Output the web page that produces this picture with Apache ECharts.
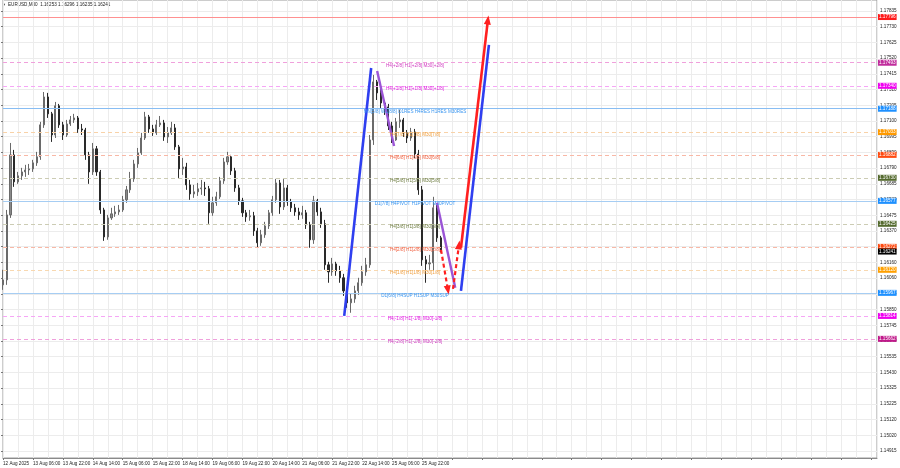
<!DOCTYPE html>
<html><head><meta charset="utf-8">
<script src="https://cdn.jsdelivr.net/npm/echarts@6/dist/echarts.min.js"></script>
<style>html,body{margin:0;padding:0;background:#fff}#c{width:900px;height:468px}</style>
</head><body><div id="c"></div>
<script>
// ---------- DATA ----------
const symbolName = 'EURUSD,M30';
const headerValues = ['1.16253', '1.16296', '1.16235', '1.16241'];

// M30 slot index (trading-time position) of each 2-hour bar
const barSlots = [0,4,8,12,16,20,24,28,32,36,40,44,48,52,56,60,64,68,72,76,80,84,88,92,96,100,104,108,112,116,
120,124,128,132,136,140,144,148,152,156,160,164,168,172,176,180,184,188,192,196,200,204,208,212,216,220,224,228,232,236,
240,244,248,252,256,260,264,268,272,276,280,284,288,292,296,300,304,308,312,316,320,324,328,332,336,340,344,348,352,356,
360,364,368,372,376,380,384,388,392,396,400,404,408,412,416,420,424,428,432,436,440,444,448,452,456,460,464,468];

const opens = [1.16020,1.16053,1.16484,1.16882,1.16703,1.16743,1.16769,1.16782,1.16789,1.16829,
1.16869,1.17081,1.17266,1.17154,1.17014,1.17207,1.17081,1.17014,1.17087,1.17114,
1.17127,1.17054,1.17047,1.16882,1.16769,1.16922,1.16769,1.16517,1.16338,1.16464,
1.16491,1.16504,1.16517,1.16584,1.16650,1.16723,1.16822,1.16895,1.16994,1.17134,
1.17054,1.17028,1.17081,1.17094,1.17001,1.17028,1.17061,1.16935,1.16789,1.16802,
1.16683,1.16623,1.16637,1.16657,1.16663,1.16657,1.16498,1.16564,1.16604,1.16710,
1.16835,1.16869,1.16776,1.16663,1.16577,1.16498,1.16471,1.16478,1.16378,1.16299,
1.16352,1.16411,1.16498,1.16584,1.16696,1.16537,1.16663,1.16570,1.16531,1.16504,
1.16484,1.16498,1.16418,1.16319,1.16577,1.16504,1.16425,1.16153,1.16106,1.16159,
1.16113,1.16067,1.15980,1.15901,1.15927,1.15980,1.16034,1.16106,1.16153,1.16981,
1.17366,1.17293,1.17226,1.17200,1.17074,1.16981,1.17101,1.17114,1.17028,1.16994,
1.17034,1.16888,1.16650,1.16186,1.16159,1.16166,1.16531,1.16332];

const highs = [1.16120,1.16517,1.16961,1.16915,1.16769,1.16796,1.16816,1.16822,1.16849,1.16902,
1.17101,1.17299,1.17293,1.17167,1.17233,1.17220,1.17101,1.17114,1.17140,1.17154,
1.17140,1.17087,1.17061,1.16902,1.16961,1.16941,1.16782,1.16531,1.16484,1.16531,
1.16544,1.16550,1.16610,1.16676,1.16769,1.16849,1.16928,1.17028,1.17167,1.17147,
1.17081,1.17114,1.17140,1.17114,1.17067,1.17101,1.17087,1.16948,1.16862,1.16829,
1.16716,1.16683,1.16696,1.16716,1.16703,1.16676,1.16604,1.16637,1.16736,1.16862,
1.16902,1.16882,1.16796,1.16683,1.16597,1.16517,1.16517,1.16504,1.16398,1.16385,
1.16438,1.16517,1.16610,1.16723,1.16716,1.16723,1.16683,1.16590,1.16557,1.16531,
1.16544,1.16517,1.16438,1.16610,1.16590,1.16531,1.16451,1.16173,1.16199,1.16173,
1.16146,1.16093,1.16007,1.15961,1.16014,1.16067,1.16146,1.16199,1.17014,1.17412,
1.17379,1.17326,1.17246,1.17220,1.17101,1.17127,1.17180,1.17127,1.17047,1.17061,
1.17054,1.16915,1.16676,1.16212,1.16219,1.16604,1.16550,1.16345];

const lows = [1.15987,1.16020,1.16464,1.16670,1.16690,1.16716,1.16736,1.16749,1.16769,1.16809,
1.16849,1.17061,1.17127,1.16968,1.16994,1.17061,1.16981,1.17001,1.17074,1.17094,
1.17028,1.17014,1.16849,1.16690,1.16749,1.16743,1.16491,1.16312,1.16319,1.16451,
1.16471,1.16484,1.16504,1.16564,1.16630,1.16703,1.16796,1.16882,1.16981,1.17028,
1.17008,1.17014,1.17067,1.16975,1.16961,1.17014,1.16915,1.16729,1.16749,1.16650,
1.16584,1.16597,1.16610,1.16617,1.16610,1.16425,1.16478,1.16544,1.16590,1.16690,
1.16816,1.16749,1.16637,1.16550,1.16471,1.16438,1.16445,1.16345,1.16266,1.16279,
1.16332,1.16391,1.16478,1.16564,1.16491,1.16517,1.16544,1.16504,1.16478,1.16451,
1.16458,1.16391,1.16266,1.16292,1.16478,1.16398,1.16120,1.16034,1.16080,1.16080,
1.16034,1.15947,1.15868,1.15835,1.15901,1.15954,1.16014,1.16080,1.16133,1.16948,
1.17246,1.17193,1.17147,1.17047,1.16961,1.16975,1.17061,1.17001,1.16961,1.16975,
1.16862,1.16617,1.16146,1.16034,1.16120,1.16113,1.16305,1.16235];

const closes = [1.16053,1.16484,1.16882,1.16703,1.16743,1.16769,1.16782,1.16789,1.16829,1.16869,
1.17081,1.17266,1.17154,1.17014,1.17207,1.17081,1.17014,1.17087,1.17114,1.17127,
1.17054,1.17047,1.16882,1.16769,1.16922,1.16769,1.16517,1.16338,1.16464,1.16491,
1.16504,1.16517,1.16584,1.16650,1.16723,1.16822,1.16895,1.16994,1.17134,1.17054,
1.17028,1.17081,1.17094,1.17001,1.17028,1.17061,1.16935,1.16789,1.16802,1.16683,
1.16623,1.16637,1.16657,1.16663,1.16657,1.16498,1.16564,1.16604,1.16710,1.16835,
1.16869,1.16776,1.16663,1.16577,1.16498,1.16471,1.16478,1.16378,1.16299,1.16352,
1.16411,1.16498,1.16584,1.16696,1.16537,1.16663,1.16570,1.16531,1.16504,1.16484,
1.16498,1.16418,1.16319,1.16577,1.16504,1.16425,1.16153,1.16106,1.16159,1.16113,
1.16067,1.15980,1.15901,1.15927,1.15980,1.16034,1.16106,1.16153,1.16981,1.17366,
1.17293,1.17226,1.17200,1.17074,1.16981,1.17101,1.17114,1.17028,1.16994,1.17034,
1.16888,1.16650,1.16186,1.16159,1.16166,1.16531,1.16332,1.16241];

const currentPrice = 1.16241;

const timeTickLabels = ['12 Aug 2025','13 Aug 06:00','13 Aug 22:00','14 Aug 14:00','15 Aug 06:00','15 Aug 22:00',
'18 Aug 14:00','19 Aug 06:00','19 Aug 22:00','20 Aug 14:00','21 Aug 06:00','21 Aug 22:00','22 Aug 14:00',
'25 Aug 06:00','25 Aug 22:00'];

const priceTickLabels = ['1.17835','1.17730','1.17625','1.17520','1.17415','1.17310','1.17205','1.17100',
'1.16995','1.16890','1.16790','1.16685','1.16580','1.16475','1.16370','1.16265','1.16160','1.16060',
'1.15955','1.15850','1.15745','1.15640','1.15535','1.15430','1.15325','1.15225','1.15120','1.15020','1.14915'];

const levelPrices = [1.17796,1.17493,1.17340,1.17188,1.17033,1.16882,1.16730,1.16577,1.16425,1.16272,1.16120,1.15967,1.15814,1.15662];
const levelNames = ['', 'H4[+2/8] H1[+2/8] M30[+2/8]', 'H4[+1/8] H1[+1/8] M30[+1/8]',
'MN[5/8] W1[8/8] D1RES H4RES H1RES M30RES', 'H4[7/8] H1[7/8] M30[7/8]', 'H4[6/8] H1[6/8] M30[6/8]',
'H4[5/8] H1[5/8] M30[5/8]', 'D1[7/8] H4PIVOT H1PIVOT M30PIVOT', 'H4[3/8] H1[3/8] M30[3/8]',
'H4[2/8] H1[2/8] M30[2/8]', 'H4[1/8] H1[1/8] M30[1/8]', 'D1[6/8] H4SUP H1SUP M30SUP',
'H4[-1/8] H1[-1/8] M30[-1/8]', 'H4[-2/8] H1[-2/8] M30[-2/8]'];

// forecast annotation segments: [slot, price]
const impulseUp = [[364.8, 1.15814], [393.6, 1.17458]];
const correctionA = [[400.0, 1.17438], [418.1, 1.16941]];
const correctionB = [[464.0, 1.16564], [483.5, 1.16001]];
const dashDown = [[468.3, 1.16252], [475.7, 1.15986]];
const dashUp = [[481.1, 1.15993], [487.5, 1.16285]];
const targetRed = [[489.6, 1.16266], [518.4, 1.17776]];
const targetBlue = [[489.6, 1.15980], [519.5, 1.17611]];

// ---------- STYLES ----------
const FONT = 'Liberation Sans, Arial, sans-serif';
const FS = 4.6;
const levelStyles = [
  {line:'#ff9090', dash:false, tag:'#ff1a1a', text:'#ff3030'},
  {line:'#f0a0dc', dash:true,  tag:'#c02c9c', text:'#d03cc0'},
  {line:'#f6a6f6', dash:true,  tag:'#f000f0', text:'#e020e0'},
  {line:'#88bdf3', dash:false, tag:'#1e90ff', text:'#3a96f0'},
  {line:'#f8d2a8', dash:true,  tag:'#ff9a00', text:'#f0a040'},
  {line:'#f8b8a6', dash:true,  tag:'#ff4a10', text:'#f06040'},
  {line:'#ccccb4', dash:true,  tag:'#556b2f', text:'#6b7a3e'},
  {line:'#a6cdf3', dash:false, tag:'#1e90ff', text:'#3a96f0'},
  {line:'#ccccb4', dash:true,  tag:'#556b2f', text:'#6b7a3e'},
  {line:'#f8b8a6', dash:true,  tag:'#ff4a10', text:'#f06040'},
  {line:'#f8d8b0', dash:true,  tag:'#ffa000', text:'#f0a040'},
  {line:'#a6cdf3', dash:false, tag:'#1e90ff', text:'#3a96f0'},
  {line:'#f6a6f6', dash:true,  tag:'#f000f0', text:'#e020e0'},
  {line:'#f0a0dc', dash:true,  tag:'#c0188a', text:'#d03cc0'}
];

const tagLabel = (txt, bg) => ({
  show: true, position: 'end', distance: 1, formatter: txt,
  backgroundColor: bg, color: '#fff', fontSize: FS, fontFamily: FONT,
  padding: [1, 1, 0, 1], lineHeight: 5
});

const levelLineData = levelPrices.map((p, i) => ({
  yAxis: p,
  lineStyle: {color: levelStyles[i].line, type: levelStyles[i].dash ? [4, 3] : 'solid', width: 1},
  label: tagLabel(p.toFixed(5), levelStyles[i].tag)
}));
levelLineData.push({yAxis: currentPrice, lineStyle: {color: 'rgba(0,0,0,0)', width: 0}, label: tagLabel(currentPrice.toFixed(5), '#000')});

const levelTextData = [];
levelPrices.forEach((p, i) => {
  if (!levelNames[i]) return;
  levelTextData.push({
    yAxis: p, lineStyle: {color: 'rgba(0,0,0,0)', width: 0},
    label: {show: true, position: 'insideMiddleBottom', distance: 0.5, formatter: levelNames[i],
      color: levelStyles[i].text, fontSize: FS, fontFamily: FONT, padding: [0, 50, 0, 0]}
  });
});

const segLine = (pts, color, width, type, arrow) => [
  {coord: pts[0], symbol: 'none', lineStyle: {color: color, width: width, type: type}, itemStyle: {color: color}},
  {coord: pts[1], symbol: arrow ? 'triangle' : 'none', symbolSize: arrow ? [7, 9] : 0,
   lineStyle: {color: color, width: width, type: type}, itemStyle: {color: color}}
];

const forecastData = [
  segLine(impulseUp, '#2f3ff0', 2.6, 'solid', false),
  segLine(correctionA, '#9b55d6', 2.4, 'solid', false),
  segLine(correctionB, '#9b55d6', 2.4, 'solid', false),
  segLine(dashDown, '#ff2020', 2.2, [4, 3], true),
  segLine(dashUp, '#ff2020', 2.2, [4, 3], true),
  segLine(targetRed, '#ff2020', 2.6, 'solid', true),
  segLine(targetBlue, '#2f3ff0', 2.6, 'solid', false)
];

const candleData = barSlots.map((s, i) => [s, opens[i], closes[i], lows[i], highs[i]]);

const chart = echarts.init(document.getElementById('c'), null, {renderer: 'canvas', width: 900, height: 468});
chart.setOption({
  animation: false,
  backgroundColor: '#ffffff',
  graphic: [
    {type: 'text', left: 2, top: 3, style: {text: '▼', fontSize: 4, fill: '#333'}},
    {type: 'text', left: 8, top: 2.5, style: {text: symbolName + '  ' + headerValues.join(' '), fontSize: FS, fontFamily: FONT, fill: '#222'}}
  ],
  grid: [
    {left: 1, right: 23, top: 0, bottom: 10, show: true, borderColor: '#9a9a9a', borderWidth: 1},
    {left: 1, right: 23, top: 11, bottom: 17, show: false}
  ],
  xAxis: [
    {type: 'value', gridIndex: 0, min: 0, max: 934.4, interval: 32,
     axisLine: {show: true, lineStyle: {color: '#8a8a8a'}},
     axisTick: {show: true, length: 2, lineStyle: {color: '#777'}},
     axisLabel: {show: true, fontSize: FS, fontFamily: FONT, color: '#222', align: 'left', margin: 3, showMaxLabel: false,
       formatter: v => { const i = Math.round(v / 32); return (Math.abs(v - i * 32) < 1e-6 && timeTickLabels[i]) ? timeTickLabels[i] : ''; }},
     splitLine: {show: true, lineStyle: {color: '#ececec', width: 1}},
     minorTick: {show: false, splitNumber: 2},
     minorSplitLine: {show: true, lineStyle: {color: '#ececec', width: 1}}},
    {type: 'value', gridIndex: 1, min: 0, max: 1, show: false}
  ],
  yAxis: [
    {type: 'value', gridIndex: 0, min: 1.14872, max: 1.17909, show: false},
    {type: 'value', gridIndex: 1, min: 0, max: 28, interval: 1, inverse: true, position: 'right',
     axisLine: {show: false}, axisTick: {show: true, length: 2, lineStyle: {color: '#777'}},
     axisLabel: {show: true, fontSize: FS, fontFamily: FONT, color: '#222', margin: 3,
       formatter: v => priceTickLabels[v] !== undefined ? priceTickLabels[v] : ''},
     splitLine: {show: true, lineStyle: {color: '#ececec', width: 1}}}
  ],
  series: [
    {type: 'line', xAxisIndex: 0, yAxisIndex: 0, data: [], silent: true,
     markLine: {silent: true, precision: 5, symbol: ['none', 'none'], animation: false, data: levelLineData}},
    {type: 'candlestick', xAxisIndex: 0, yAxisIndex: 0, data: candleData,
     encode: {x: 0, y: [1, 2, 3, 4]}, barWidth: 1.6,
     itemStyle: {color: '#8a8a8a', color0: '#2a2a2a', borderColor: '#6a6a6a', borderColor0: '#2a2a2a', borderWidth: 1}},
    {type: 'line', xAxisIndex: 0, yAxisIndex: 0, data: [], silent: true,
     markLine: {silent: true, precision: 5, symbol: ['none', 'none'], animation: false, data: levelTextData}},
    {type: 'line', xAxisIndex: 0, yAxisIndex: 0, data: [], silent: true, z: 5,
     markLine: {silent: true, precision: 5, symbol: ['none', 'none'], animation: false, data: forecastData}}
  ]
});
</script>
</body></html>
